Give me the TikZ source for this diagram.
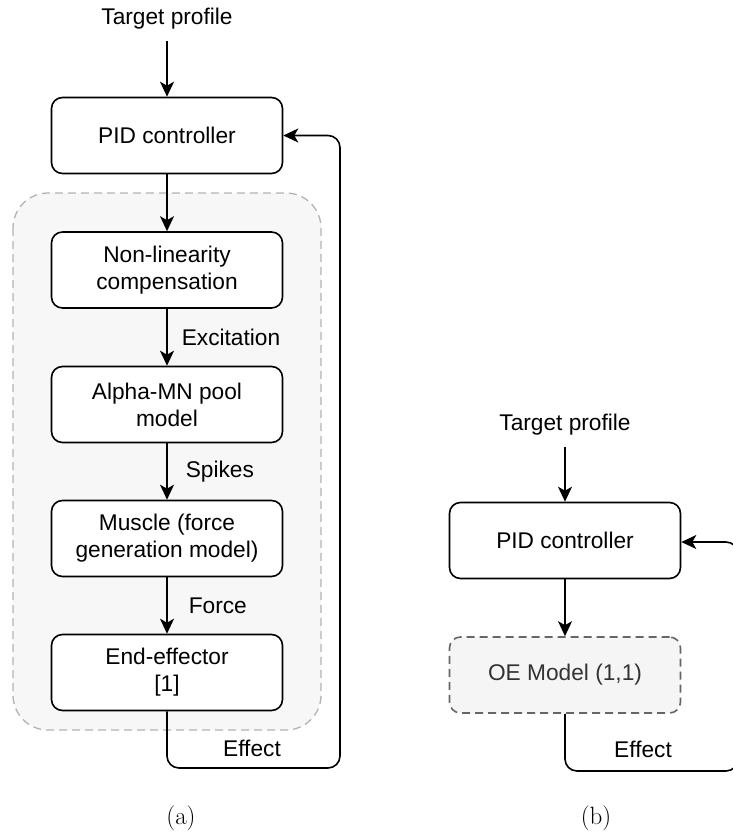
\documentclass[tikz,border=0pt]{standalone}
\usepackage{fontspec}
\newfontfamily\helv{Liberation Sans}
\usetikzlibrary{arrows.meta}
\definecolor{grpfill}{HTML}{F7F7F7}
\definecolor{grpline}{HTML}{B3B3B3}
\definecolor{oefill}{HTML}{F5F5F5}
\definecolor{oeline}{HTML}{666666}
\definecolor{oetext}{HTML}{333333}
\tikzset{
  txt/.style={font=\helv\fontsize{22.7}{27.2}\selectfont, inner sep=0pt},
  blk/.style={txt, draw, line width=1.6pt, rounded corners=11pt, fill=white,
    minimum width=231pt, minimum height=76pt, align=center},
  oeblk/.style={blk, draw=oeline, fill=oefill, text=oetext, dash pattern=on 8pt off 5pt},
  arr/.style={-{Stealth[length=15pt,width=14pt,inset=4pt]}, line width=1.6pt},
  loopline/.style={arr, rounded corners=12pt},
  subcap/.style={font=\fontsize{25}{30}\selectfont, inner sep=0pt}
}
\begin{document}
\begin{tikzpicture}[x=1pt,y=-1pt]
\useasboundingbox (0,0) rectangle (733,835);
% group
\draw[grpline, fill=grpfill, line width=1.3pt, dash pattern=on 8pt off 5pt, rounded corners=35pt]
  (13,193) rectangle (321,730);
% (a)
\node[txt, inner ysep=11pt] (tpa) at (167,19) {Target profile};
\node[blk] (pida) at (167,135.5) {PID controller};
\node[blk] (nl) at (167,270) {Non-linearity\\compensation};
\node[blk] (amn) at (167,404.5) {Alpha-MN pool\\model};
\node[blk] (mus) at (167,538.5) {Muscle (force\\generation model)};
\node[blk] (ee) at (167,672.5) {End-effector\\{[1]}};
\draw[arr] (tpa) -- (pida);
\draw[arr] (pida) -- (nl);
\draw[arr] (nl) -- node[txt, right=14pt] {Excitation} (amn);
\draw[arr] (amn) -- node[txt, right=18pt] {Spikes} (mus);
\draw[arr] (mus) -- node[txt, right=21pt] {Force} (ee);
\coordinate (la1) at (167,768);
\coordinate (la2) at (340,768);
\coordinate (la3) at (340,135.5);
\draw[loopline] (ee.south) -- (la1) -- (la2) -- (la3) -- (pida.east);
\node[txt, anchor=west] (effa) at (223,748) {Effect};
\node[subcap] (capa) at (181,818) {(a)};
% (b)
\node[txt, inner ysep=11pt] (tpb) at (565,425) {Target profile};
\node[blk] (pidb) at (565,540.5) {PID controller};
\node[oeblk] (oe) at (565,675) {OE Model (1,1)};
\draw[arr] (tpb) -- (pidb);
\draw[arr] (pidb) -- (oe);
\coordinate (lb1) at (565,771);
\coordinate (lb2) at (738,771);
\coordinate (lb3) at (738,542);
\draw[loopline] (oe.south) -- (lb1) -- (lb2) -- (lb3) -- (pidb.east |- lb3);
\node[txt, anchor=west] (effb) at (614,749) {Effect};
\node[subcap] (capb) at (596,818) {(b)};
\end{tikzpicture}
\end{document}
